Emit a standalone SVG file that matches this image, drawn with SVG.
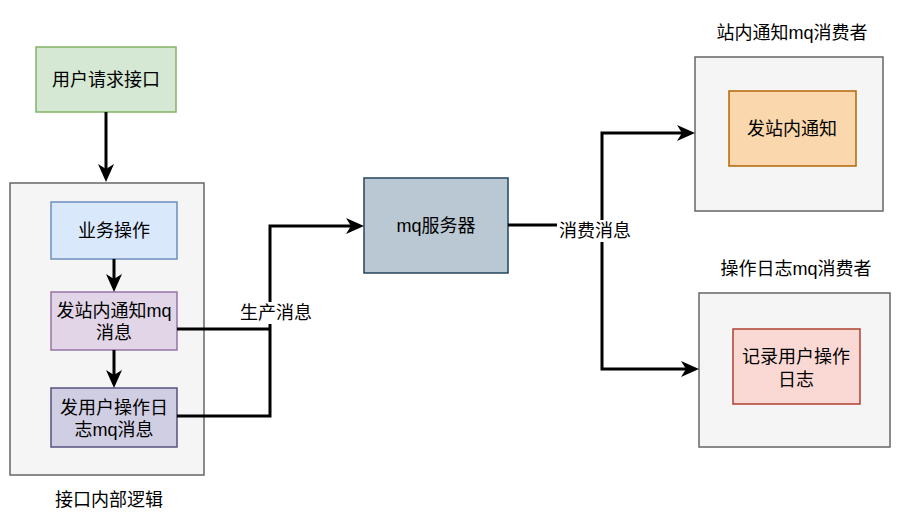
<svg xmlns="http://www.w3.org/2000/svg" width="898" height="521" viewBox="0 0 898 521">
<defs>
<marker id="arr" markerUnits="userSpaceOnUse" markerWidth="19" markerHeight="16" refX="5" refY="8" orient="auto">
<path d="M0,0 L18,8 L0,16 L5,8 Z" fill="#000"/>
</marker>
</defs>
<style>
text{font-family:"Liberation Sans","Noto Sans CJK SC",sans-serif;font-size:18px;fill:#000;text-anchor:middle;dominant-baseline:central}
.c{fill:none;stroke:#000;stroke-width:3}
.a{marker-end:url(#arr)}
rect{stroke-width:1.5}
</style>
<rect width="898" height="521" fill="#fff"/>
<g id="req"><rect x="36" y="47" width="140" height="65" fill="#d5e8d4" stroke="#82b366"/><text x="106" y="80">用户请求接口</text></g>
<g id="inner"><rect x="10" y="183" width="194" height="292" fill="#f5f5f5" stroke="#666"/><text x="109" y="500">接口内部逻辑</text></g>
<g id="biz"><rect x="51" y="202" width="126" height="57" fill="#dae8fc" stroke="#6c8ebf"/><text x="114" y="231">业务操作</text></g>
<g id="sendNotice"><rect x="51" y="292" width="126" height="58" fill="#e1d5e7" stroke="#9673a6"/><text x="114" y="311">发站内通知mq</text><text x="114" y="333">消息</text></g>
<g id="sendLog"><rect x="51" y="388" width="126" height="59" fill="#d0cee2" stroke="#56517e"/><text x="114" y="408">发用户操作日</text><text x="114" y="430">志mq消息</text></g>
<g id="mq"><rect x="364" y="178" width="144" height="95" fill="#bac8d3" stroke="#23445d"/><text x="436" y="226">mq服务器</text></g>
<g id="consumer1"><rect x="695" y="57" width="188" height="154" fill="#f5f5f5" stroke="#666"/><text x="792" y="33">站内通知mq消费者</text></g>
<g id="notice"><rect x="729" y="91" width="127" height="75" fill="#fad7ac" stroke="#b46504"/><text x="792" y="129">发站内通知</text></g>
<g id="consumer2"><rect x="699" y="293" width="191" height="154" fill="#f5f5f5" stroke="#666"/><text x="796" y="269">操作日志mq消费者</text></g>
<g id="log"><rect x="733" y="329" width="127" height="75" fill="#fad9d5" stroke="#ae4132"/><text x="796" y="357">记录用户操作</text><text x="796" y="380">日志</text></g>
<g id="connectors">
<path class="c a" d="M106,112 V169"/>
<path class="c a" d="M114,259 V279"/>
<path class="c a" d="M114,350 V375"/>
<path class="c" d="M177,329 H270"/>
<path class="c a" d="M177,416 H270 V226 H351"/>
<path class="c" d="M508,225 H602"/>
<path class="c a" d="M602,225 V133 H682"/>
<path class="c a" d="M602,225 V369 H686"/>
<rect x="238" y="302" width="77" height="22" fill="#fff" stroke="none"/>
<text x="276" y="313">生产消息</text>
<rect x="557" y="220" width="76" height="22" fill="#fff" stroke="none"/>
<text x="595" y="231">消费消息</text>
</g>
</svg>
